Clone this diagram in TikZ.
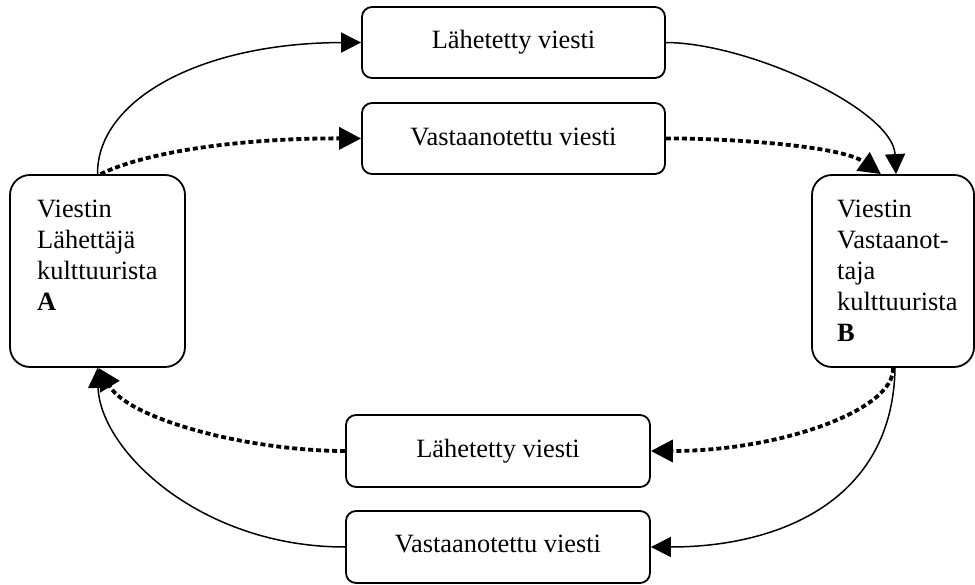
\documentclass[tikz,border=0pt]{standalone}
\usepackage{fontspec}
\setmainfont{Liberation Serif}
\usetikzlibrary{arrows.meta}
\begin{document}
\begin{tikzpicture}[x=1pt,y=-1pt,
  bigbox/.style={draw,line width=1.8pt,rounded corners=20pt},
  msgbox/.style={draw,line width=1.8pt,rounded corners=10pt,minimum width=303pt,minimum height=71pt,inner sep=0pt,font=\fontsize{26.4}{31}\selectfont},
  txt/.style={anchor=base west,inner sep=0pt,font=\fontsize{26.4}{31}\selectfont},
  solidarr/.style={line width=1.5pt,-{Triangle[length=20pt,width=20pt]}},
  dotarr/.style={line width=3.8pt,dash pattern=on 5pt off 3pt,-{Triangle[length=22pt,width=22pt]}}]
\useasboundingbox (0,0) rectangle (975,585);
\node[bigbox,minimum width=175pt,minimum height=192pt] (A) at (97.5,271) {};
\node[bigbox,minimum width=162pt,minimum height=192pt] (B) at (893,271) {};
\node[txt] (Atext) at (37,218) {\begin{tabular}[t]{@{}l@{}}Viestin\\ Lähettäjä\\ kulttuurista\\ \textbf{A}\end{tabular}};
\node[txt] (Btext) at (837,218) {\begin{tabular}[t]{@{}l@{}}Viestin\\ Vastaanot-\\ taja\\ kulttuurista\\ \textbf{B}\end{tabular}};
\node[msgbox] (t1) at (513.5,42.5) {\raisebox{3pt}{Lähetetty viesti}};
\node[msgbox] (t2) at (513.5,138.5) {\raisebox{4pt}{Vastaanotettu viesti}};
\node[msgbox,minimum width=304pt,minimum height=72pt] (b1) at (498,451) {\raisebox{6pt}{Lähetetty viesti}};
\node[msgbox,minimum width=304pt,minimum height=72pt] (b2) at (498,547) {\raisebox{7pt}{Vastaanotettu viesti}};
% top left
\draw[solidarr] (A.north) .. controls (97,100) and (200,43) .. (t1.west);
\draw[dotarr] ([xshift=3pt]A.north) .. controls (150,150) and (250,138) .. (t2.west);
% top right
\draw[solidarr] (t1.east) .. controls (750,43) and (893,110) .. ([xshift=3pt]B.north);
\draw[dotarr] (t2.east) .. controls (720,138) and (840,145) .. ([xshift=-12pt]B.north);
% bottom right
\draw[dotarr] (B.south) .. controls (895,410) and (780,451) .. (b1.east);
\draw[solidarr] ([xshift=2pt]B.south) .. controls (893,500) and (780,547) .. (b2.east);
% bottom left
\draw[dotarr] (b1.west) .. controls (250,451) and (130,420) .. ([xshift=1pt]A.south);
\draw[solidarr] (b2.west) .. controls (200,547) and (100,450) .. (A.south);
\end{tikzpicture}
\end{document}
